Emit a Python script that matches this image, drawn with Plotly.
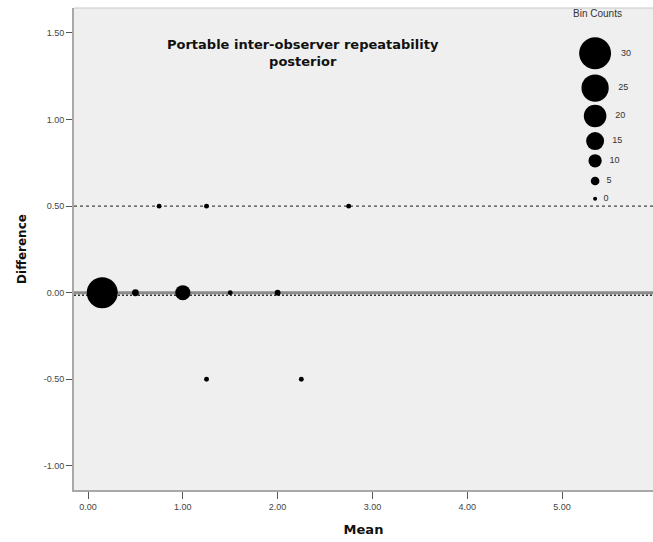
import plotly.graph_objects as go

# Data: bins (mean, difference, count)
mean_vals = [0.15, 0.5, 1.0, 1.5, 2.0, 0.75, 1.25, 2.75, 1.25, 2.25]
diff_vals = [0.0, 0.0, 0.0, 0.0, 0.0, 0.5, 0.5, 0.5, -0.5, -0.5]
bin_counts = [29, 3, 12, 1, 2, 1, 1, 1, 1, 1]

legend_counts = [30, 25, 20, 15, 10, 5, 0]
legend_ypos = [0.906, 0.834, 0.776, 0.724, 0.683, 0.641, 0.604]

mean_line = 0.0
zero_line = -0.015
upper_loa = 0.5

x_ticks = [0, 1, 2, 3, 4, 5]
y_ticks = [-1.0, -0.5, 0.0, 0.5, 1.0, 1.5]


def diam(c):
    return 4 + 0.93 * c


fig = go.Figure()

# reference lines
fig.add_shape(type="line", xref="x domain", yref="y", x0=0, x1=1, y0=mean_line, y1=mean_line,
              line=dict(color="#8c8c8c", width=3), layer="below")
fig.add_shape(type="line", xref="x domain", yref="y", x0=0, x1=1, y0=zero_line, y1=zero_line,
              line=dict(color="#333333", width=1.5, dash="2px,2px"), layer="below")
fig.add_shape(type="line", xref="x domain", yref="y", x0=0, x1=1, y0=upper_loa, y1=upper_loa,
              line=dict(color="#444444", width=1.2, dash="3px,3px"), layer="below")

fig.add_trace(go.Scatter(
    x=mean_vals, y=diff_vals, mode="markers",
    marker=dict(size=[diam(c) for c in bin_counts], color="black", opacity=1, line=dict(width=0)),
    showlegend=False, hoverinfo="skip"))

# legend bubbles
fig.add_trace(go.Scatter(
    x=[0.9] * len(legend_counts), y=legend_ypos, mode="markers+text",
    xaxis="x2", yaxis="y2",
    marker=dict(size=[diam(c) for c in legend_counts], color="black", opacity=1, line=dict(width=0)),
    text=["  " + str(c) for c in legend_counts], textposition="middle right",
    textfont=dict(family="Liberation Sans", size=9, color="#333333"),
    showlegend=False, hoverinfo="skip", cliponaxis=False))

fig.add_annotation(x=0.905, y=1.005, xref="x2 domain", yref="y2 domain",
                   text="Bin Counts", showarrow=False,
                   font=dict(family="Liberation Sans", size=10, color="#333333"),
                   xanchor="center", yanchor="top")

fig.add_annotation(x=0.396, y=0.945, xref="x domain", yref="y domain",
                   text="Portable inter-observer repeatability<br>posterior", showarrow=False,
                   font=dict(family="DejaVu Sans", size=13, color="#111111", weight="bold"),
                   xanchor="center", yanchor="top", align="center")

fig.update_layout(
    width=653, height=542,
    margin=dict(l=74, r=0, t=8, b=52),
    paper_bgcolor="white", plot_bgcolor="#efefef",
    xaxis=dict(range=[-0.148, 5.96], tickvals=x_ticks, ticktext=["%.2f" % v for v in x_ticks],
               showgrid=False, zeroline=False, ticks="outside", ticklen=7, tickcolor="#555555",
               showline=True, linecolor="#a8a8a8", linewidth=2,
               tickfont=dict(family="Liberation Sans", size=9, color="#444444"),
               title=dict(text="<b>Mean</b>", font=dict(family="DejaVu Sans", size=13, color="#111111"),
                          standoff=14)),
    yaxis=dict(range=[-1.139, 1.644], tickvals=y_ticks, ticktext=["%.2f" % v for v in y_ticks],
               showgrid=False, zeroline=False, ticks="outside", ticklen=6, tickcolor="#555555",
               showline=True, linecolor="#a8a8a8", linewidth=2,
               tickfont=dict(family="Liberation Sans", size=9, color="#444444"),
               title=dict(text="<b>Difference</b>", font=dict(family="DejaVu Sans", size=12, color="#111111"),
                          standoff=14)),
    xaxis2=dict(range=[0, 1], overlaying="x", visible=False),
    yaxis2=dict(range=[0, 1], overlaying="y", visible=False),
    shapes=list(fig.layout.shapes) + [
        dict(type="line", xref="paper", yref="paper", x0=0, x1=1, y0=1, y1=1,
             line=dict(color="#c8c8c8", width=1))],
)

fig.write_html("out.html")
